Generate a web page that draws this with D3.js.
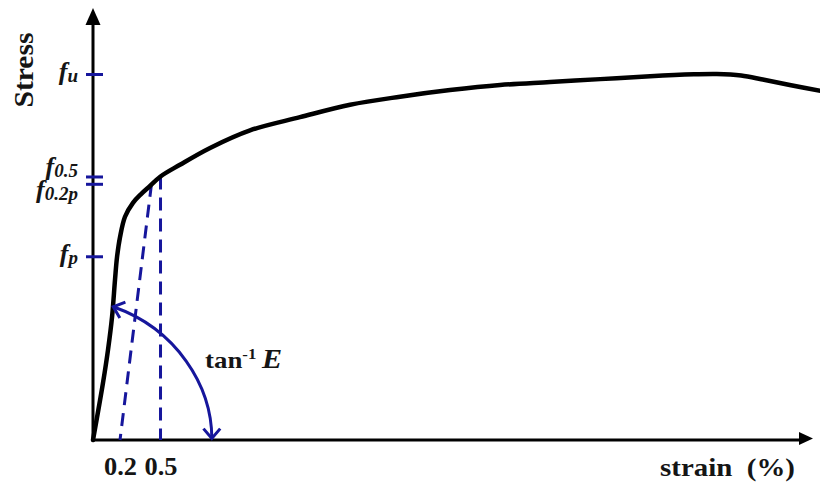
<!DOCTYPE html>
<html>
<head>
<meta charset="utf-8">
<script src="https://cdn.jsdelivr.net/npm/d3@7/dist/d3.min.js"></script>
<style>
  html, body { margin: 0; padding: 0; background: #fff; }
  svg { display: block; }
  text { font-family: "Liberation Serif", "Times New Roman", serif; font-weight: bold; fill: #151515; }
</style>
</head>
<body>
<svg id="chart" width="820" height="487"></svg>
<script>
// Stress–strain curve (strain in %, stress in arbitrary units)
const strain = [0, 0.074, 0.111, 0.141, 0.163, 0.178, 0.2, 0.237, 0.296, 0.356, 0.422, 0.5,
                0.644, 0.867, 1.163, 1.533, 1.904, 2.274, 2.644, 3.015, 3.385, 3.756, 4.126,
                4.45, 4.62, 4.8, 4.96, 5.16, 5.39];
const stress = [0, 78, 123, 168, 219, 250, 277, 305, 324, 336, 347, 360,
                376, 399, 423, 441, 458, 469, 478, 485, 489, 493, 497,
                499.5, 500, 498, 492.5, 485, 477];

// Characteristic stresses marked on the stress axis
const stressKeys   = ["fu", "f05", "f02p", "fp"];
const stressValues = [500, 360, 350, 251];
const stressSub    = ["u", "0.5", "0.2p", "p"];

// Proof-strain offsets marked on the strain axis
const strainTicks  = [0.2, 0.5];
const strainLabels = ["0.2", "0.5"];

// Elastic modulus (stress per % strain) used for the 0.2 % offset line
const modulusE = 1500;

// Modulus angle annotation: from a point on the elastic branch down to the strain axis
const angleFrom = { strain: 0.15, stress: 182 };
const angleTo   = { strain: 0.88, stress: 2 };
const angleText = { strain: 0.83, stress: 98 };

const svg = d3.select("#chart");
const blue = "#16169c";

const x = d3.scaleLinear().domain([0, 5.31]).range([93, 810]);
const y = d3.scaleLinear().domain([0, 500]).range([440, 74]);
const yTop = 10;

// ---- axes lines with arrowheads ----
svg.append("line")
  .attr("x1", x(0)).attr("y1", y(0)).attr("x2", x(0)).attr("y2", yTop + 12)
  .attr("stroke", "#000").attr("stroke-width", 3);
svg.append("path")
  .attr("d", `M${x(0)},${yTop - 2} L${x(0) - 7.5},${yTop + 15} L${x(0) + 7.5},${yTop + 15} Z`)
  .attr("fill", "#000");

svg.append("line")
  .attr("x1", x(0) - 1.5).attr("y1", y(0)).attr("x2", x.range()[1] - 8).attr("y2", y(0))
  .attr("stroke", "#000").attr("stroke-width", 3);
svg.append("path")
  .attr("d", `M${x.range()[1] + 3},${y(0) - 1.5} L${x.range()[1] - 11},${y(0) - 8} L${x.range()[1] - 11},${y(0) + 5} Z`)
  .attr("fill", "#000");

// ---- strain axis tick labels ----
const xAxis = d3.axisBottom(x)
  .tickValues(strainTicks)
  .tickSize(0)
  .tickFormat((d, i) => strainLabels[i]);
const gx = svg.append("g").attr("transform", `translate(0,${y(0)})`).call(xAxis);
gx.select(".domain").remove();
gx.selectAll("text")
  .attr("y", 35).attr("dy", 0)
  .style("font-family", "'Liberation Serif', serif")
  .style("font-weight", "bold")
  .style("font-size", "25px")
  .attr("fill", "#151515")
  .attr("textLength", 33)
  .attr("lengthAdjust", "spacingAndGlyphs");

// ---- stress axis ticks (blue dashes across the axis) ----
const yAxis = d3.axisLeft(y)
  .tickValues(stressValues)
  .tickSize(0)
  .tickFormat("");
const gy = svg.append("g").attr("transform", `translate(${x(0)},0)`).call(yAxis);
gy.select(".domain").remove();
gy.selectAll(".tick line")
  .attr("x1", -7).attr("x2", 10)
  .attr("stroke", blue).attr("stroke-width", 3);
gy.selectAll(".tick text").remove();

// label baselines: spread apart labels whose ticks are too close together
const minGap = 23;
const base = stressValues.map(v => y(v) + 6);
const order = d3.range(base.length).sort((a, b) => base[a] - base[b]);
for (let k = 1; k < order.length; k++) {
  const a = order[k - 1], b = order[k];
  const gap = base[b] - base[a];
  if (gap < minGap) {
    const push = (minGap - gap) / 2;
    base[a] -= push;
    base[b] += push;
  }
}

const labels = svg.append("g");
stressKeys.forEach((key, i) => {
  const t = labels.append("text")
    .attr("x", x(0) - 15)
    .attr("y", base[i])
    .attr("text-anchor", "end")
    .style("font-style", "italic");
  t.append("tspan").text("f").style("font-size", "26px");
  t.append("tspan").text(stressSub[i]).attr("dy", 2).style("font-size", "19px");
});

// ---- axis titles ----
svg.append("text")
  .attr("transform", `translate(33,70) rotate(-90)`)
  .attr("text-anchor", "middle")
  .style("font-size", "28px")
  .attr("textLength", 75)
  .attr("lengthAdjust", "spacingAndGlyphs")
  .text("Stress");

svg.append("text")
  .attr("x", 660).attr("y", 476)
  .style("font-size", "26px")
  .style("white-space", "pre")
  .attr("textLength", 135)
  .attr("lengthAdjust", "spacingAndGlyphs")
  .text("strain  (%)");

// ---- proof-stress construction lines ----
const f02 = stressValues[stressKeys.indexOf("f02p")];
const f05 = stressValues[stressKeys.indexOf("f05")];

svg.append("line")
  .attr("x1", x(strainTicks[0] + f02 / modulusE)).attr("y1", y(f02))
  .attr("x2", x(strainTicks[0])).attr("y2", y(0))
  .attr("stroke", blue).attr("stroke-width", 3)
  .attr("stroke-dasharray", "13,8");

svg.append("line")
  .attr("x1", x(strainTicks[1])).attr("y1", y(f05))
  .attr("x2", x(strainTicks[1])).attr("y2", y(0))
  .attr("stroke", blue).attr("stroke-width", 3)
  .attr("stroke-dasharray", "13,8");

// ---- stress–strain curve ----
const pts = strain.map((s, i) => [s, stress[i]]);
svg.append("path")
  .datum(pts)
  .attr("fill", "none")
  .attr("stroke", "#000")
  .attr("stroke-width", 4.5)
  .attr("stroke-linejoin", "round")
  .attr("stroke-linecap", "round")
  .attr("d", d3.line().x(d => x(d[0])).y(d => y(d[1])).curve(d3.curveCatmullRom.alpha(0.5)));

// ---- modulus angle arc with arrowheads at both ends ----
const p0 = [x(angleFrom.strain), y(angleFrom.stress)];
const p3 = [x(angleTo.strain), y(angleTo.stress)];
const dx = p3[0] - p0[0], dy = p3[1] - p0[1];
const t0 = [0.94, 0.33];           // leaving the elastic branch, heading right
const t3 = [0, 1];                 // arriving straight down onto the strain axis
const span = Math.hypot(dx, dy);
const k0 = 0.41 * span;
const k3 = 0.32 * span;
const p1 = [p0[0] + k0 * t0[0], p0[1] + k0 * t0[1]];
const p2 = [p3[0] - k3 * t3[0], p3[1] - k3 * t3[1]];
const arc = d3.path();
arc.moveTo(p0[0], p0[1]);
arc.bezierCurveTo(p1[0], p1[1], p2[0], p2[1], p3[0], p3[1]);
svg.append("path")
  .attr("d", arc.toString())
  .attr("fill", "none").attr("stroke", blue).attr("stroke-width", 3);

function chevron(tip, back, len, ang) {
  const n = Math.hypot(back[0], back[1]);
  const ux = back[0] / n, uy = back[1] / n;
  const rot = a => [ux * Math.cos(a) - uy * Math.sin(a), ux * Math.sin(a) + uy * Math.cos(a)];
  const a1 = rot(ang), a2 = rot(-ang);
  return `M${tip[0] + len * a1[0]},${tip[1] + len * a1[1]} L${tip[0]},${tip[1]} L${tip[0] + len * a2[0]},${tip[1] + len * a2[1]}`;
}
svg.append("path")
  .attr("d", chevron(p0, [p1[0] - p0[0], p1[1] - p0[1]], 13, 0.7))
  .attr("fill", "none").attr("stroke", blue).attr("stroke-width", 3)
  .attr("stroke-linejoin", "miter");
svg.append("path")
  .attr("d", chevron(p3, [p2[0] - p3[0], p2[1] - p3[1]], 13, 0.7))
  .attr("fill", "none").attr("stroke", blue).attr("stroke-width", 3)
  .attr("stroke-linejoin", "miter");

// ---- tan^-1 E label ----
const tl = svg.append("text")
  .attr("x", x(angleText.strain)).attr("y", y(angleText.stress))
  .style("font-size", "24px");
tl.append("tspan").text("tan");
tl.append("tspan").text("-1").attr("dy", -9).style("font-size", "15px");
tl.append("tspan").text("E").attr("dx", 5).attr("dy", 9).style("font-style", "italic").style("font-size", "27px");
tl.attr("textLength", 77).attr("lengthAdjust", "spacingAndGlyphs");
</script>
</body>
</html>
